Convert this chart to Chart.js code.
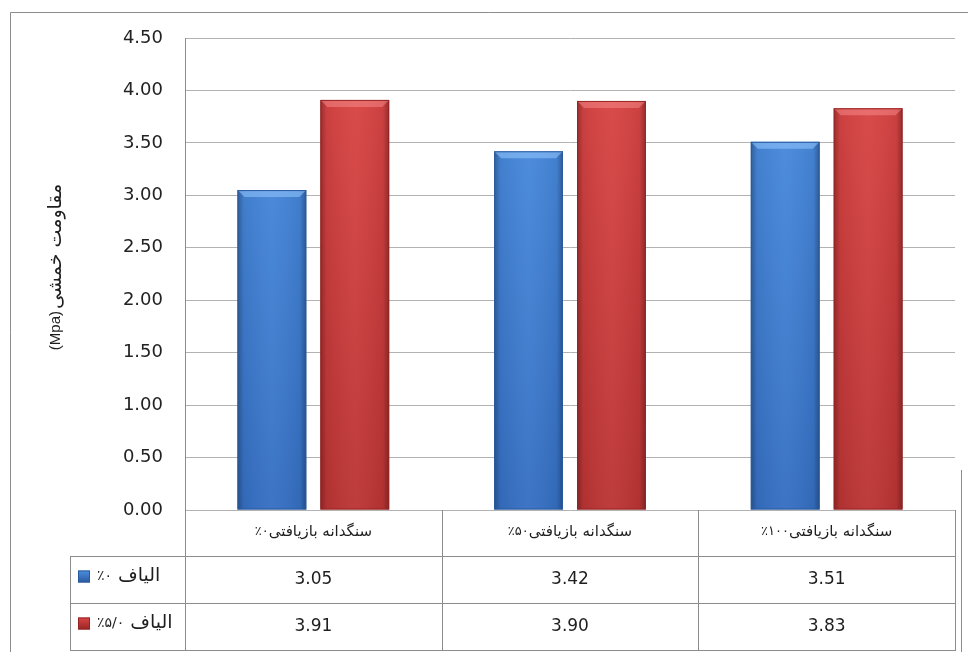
<!DOCTYPE html>
<html>
<head>
<meta charset="utf-8">
<script src="https://cdn.jsdelivr.net/npm/chart.js@4/dist/chart.umd.min.js"></script>
<style>
    body { margin: 0; background: #fff; }
    #wrap { width: 968px; height: 652px; }
</style>
</head>
<body>
<div id="wrap"><canvas id="flexChart" width="968" height="652"></canvas></div>
<script>
// mix proportions (x axis) and fibre content (series)
const catPercents = ["٪۰", "٪۵۰", "٪۱۰۰"];
const catNoun = "سنگدانه بازیافتی";
const seriesPercents = ["٪۰", "٪۵/۰"];
const seriesNoun = "الیاف";
const noFiber = [3.05, 3.42, 3.51];
const halfFiber = [3.91, 3.90, 3.83];
const yMin = 0;
const yMax = 4.5;
const yStep = 0.5;
const yUnit = "(Mpa)";
const yName = "مقاومت خمشی";

const palette = [
    { top: "#4b8fe2", bottom: "#356fc2", bevel: "rgba(150,200,255,0.55)", edge: "#2a5a9e" },
    { top: "#dc4646", bottom: "#bb3434", bevel: "rgba(255,150,150,0.45)", edge: "#962424" },
];

const lineGrey = "#8c8c8c";
const gridGrey = "#b2b2b2";
const textFont = "'DejaVu Sans', sans-serif";
const ink = "#1e1e1e";

function barFill(i) {
    return (c) => {
        const { ctx, chartArea } = c.chart;
        if (!chartArea) return palette[i].top;
        const g = ctx.createLinearGradient(0, chartArea.top, 0, chartArea.bottom);
        g.addColorStop(0, palette[i].top);
        g.addColorStop(1, palette[i].bottom);
        return g;
    };
}

// draws text pieces side by side, left to right, so digits and words keep their order
function drawPieces(ctx, pieces, x, y, align) {
    const widths = pieces.map((p) => { ctx.font = p.font; return ctx.measureText(p.text).width; });
    const total = widths.reduce((a, w, i) => a + w + (pieces[i].gap || 0), 0);
    let cx = align === "center" ? x - total / 2 : x;
    ctx.textAlign = "left";
    pieces.forEach((p, i) => {
        ctx.font = p.font;
        ctx.fillText(p.text, cx, y);
        cx += widths[i] + (p.gap || 0);
    });
}

// shaded sides and a light top face on each bar
const bevelPlugin = {
    id: "bevel",
    afterDatasetsDraw(chart) {
        const ctx = chart.ctx;
        chart.data.datasets.forEach((ds, i) => {
            chart.getDatasetMeta(i).data.forEach((bar) => {
                const l = bar.x - bar.width / 2;
                const r = bar.x + bar.width / 2;
                const t = bar.y;
                const b = bar.base;
                const w = r - l;
                const bv = 7;
                ctx.save();
                const g = ctx.createLinearGradient(l, 0, r, 0);
                g.addColorStop(0, "rgba(0,0,0,0.30)");
                g.addColorStop(0.09, "rgba(0,0,0,0.06)");
                g.addColorStop(0.5, "rgba(255,255,255,0.04)");
                g.addColorStop(0.91, "rgba(0,0,0,0.06)");
                g.addColorStop(1, "rgba(0,0,0,0.32)");
                ctx.fillStyle = g;
                ctx.fillRect(l, t, w, b - t);

                ctx.beginPath();
                ctx.moveTo(l, t);
                ctx.lineTo(r, t);
                ctx.lineTo(r - bv, t + bv);
                ctx.lineTo(l + bv, t + bv);
                ctx.closePath();
                ctx.fillStyle = palette[i].bevel;
                ctx.fill();

                ctx.strokeStyle = palette[i].edge;
                ctx.lineWidth = 1;
                ctx.strokeRect(l + 0.5, t + 0.5, w - 1, b - t - 1);
                ctx.restore();
            });
        });
    },
};

// data table under the plot, axis title and the outer frame
const tablePlugin = {
    id: "dataTable",
    afterDraw(chart) {
        const ctx = chart.ctx;
        const area = chart.chartArea;
        const xs = chart.scales.x;
        const left = 70;
        const rows = [area.bottom, 556, 603, 650];
        const colW = (area.right - area.left) / catPercents.length;
        const line = (x1, y1, x2, y2) => {
            ctx.beginPath();
            ctx.moveTo(x1, y1);
            ctx.lineTo(x2, y2);
            ctx.stroke();
        };
        ctx.save();
        ctx.strokeStyle = lineGrey;
        ctx.lineWidth = 1;

        // frame
        line(10.5, 12.5, 968, 12.5);
        line(10.5, 12.5, 10.5, 652);
        line(961.5, 470, 961.5, 652);

        // table grid
        line(area.left + 0.5, area.bottom, area.left + 0.5, rows[3] + 0.5);
        line(area.right + 0.5, rows[0], area.right + 0.5, rows[3] + 0.5);
        line(left + 0.5, rows[1] + 0.5, left + 0.5, rows[3] + 0.5);
        for (let k = 1; k < catPercents.length; k++) {
            const x = Math.round(area.left + colW * k) + 0.5;
            line(x, rows[0], x, rows[3] + 0.5);
        }
        for (let k = 1; k < rows.length; k++) {
            line(left, rows[k] + 0.5, area.right + 1, rows[k] + 0.5);
        }

        ctx.fillStyle = ink;
        ctx.textBaseline = "middle";
        ctx.direction = "ltr";

        // category headers
        catPercents.forEach((p, i) => {
            drawPieces(ctx, [
                { text: p, font: "13px " + textFont },
                { text: catNoun, font: "15px " + textFont },
            ], xs.getPixelForValue(i), (rows[0] + rows[1]) / 2 - 1, "center");
        });

        // values
        ctx.font = "17px " + textFont;
        ctx.textAlign = "center";
        [noFiber, halfFiber].forEach((arr, r) => {
            const cy = (rows[r + 1] + rows[r + 2]) / 2;
            arr.forEach((v, i) => {
                ctx.fillText(v.toFixed(2), xs.getPixelForValue(i), cy);
            });
        });

        // series names with legend keys
        seriesPercents.forEach((p, r) => {
            const cy = (rows[r + 1] + rows[r + 2]) / 2 - 3;
            const g = ctx.createLinearGradient(0, cy - 6, 0, cy + 6);
            g.addColorStop(0, palette[r].top);
            g.addColorStop(1, palette[r].edge);
            ctx.fillStyle = g;
            ctx.fillRect(78, cy - 6, 12, 12);
            ctx.strokeStyle = palette[r].edge;
            ctx.strokeRect(78.5, cy - 5.5, 11, 11);
            ctx.fillStyle = ink;
            drawPieces(ctx, [
                { text: p, font: "14px " + textFont, gap: 6 },
                { text: seriesNoun, font: "19px " + textFont },
            ], 97, cy, "left");
        });

        // y axis title, reading bottom to top
        ctx.translate(56, (area.top + area.bottom) / 2 - 7);
        ctx.rotate(-Math.PI / 2);
        drawPieces(ctx, [
            { text: yUnit, font: "15px 'Liberation Sans', sans-serif", gap: 2 },
            { text: yName, font: "19px " + textFont },
        ], 0, 0, "center");
        ctx.restore();
    },
};

Chart.defaults.font.family = textFont;
Chart.defaults.color = ink;

new Chart(document.getElementById("flexChart"), {
    type: "bar",
    data: {
        labels: catPercents,
        datasets: [
            { label: seriesPercents[0], data: noFiber, backgroundColor: barFill(0) },
            { label: seriesPercents[1], data: halfFiber, backgroundColor: barFill(1) },
        ],
    },
    options: {
        responsive: false,
        animation: false,
        layout: { padding: { left: 0, top: 38, right: 13, bottom: 142 } },
        datasets: { bar: { categoryPercentage: 0.646, barPercentage: 0.83, borderWidth: 0 } },
        plugins: { legend: { display: false }, tooltip: { enabled: false } },
        scales: {
            x: { display: false },
            y: {
                min: yMin,
                max: yMax,
                afterFit: (s) => { s.width = 185; },
                border: { display: true, color: lineGrey },
                grid: { color: gridGrey, drawTicks: false },
                ticks: {
                    stepSize: yStep,
                    padding: 22,
                    font: { size: 18 },
                    color: "#222",
                    callback: (v) => Number(v).toFixed(2),
                },
            },
        },
    },
    plugins: [bevelPlugin, tablePlugin],
});
</script>
</body>
</html>
